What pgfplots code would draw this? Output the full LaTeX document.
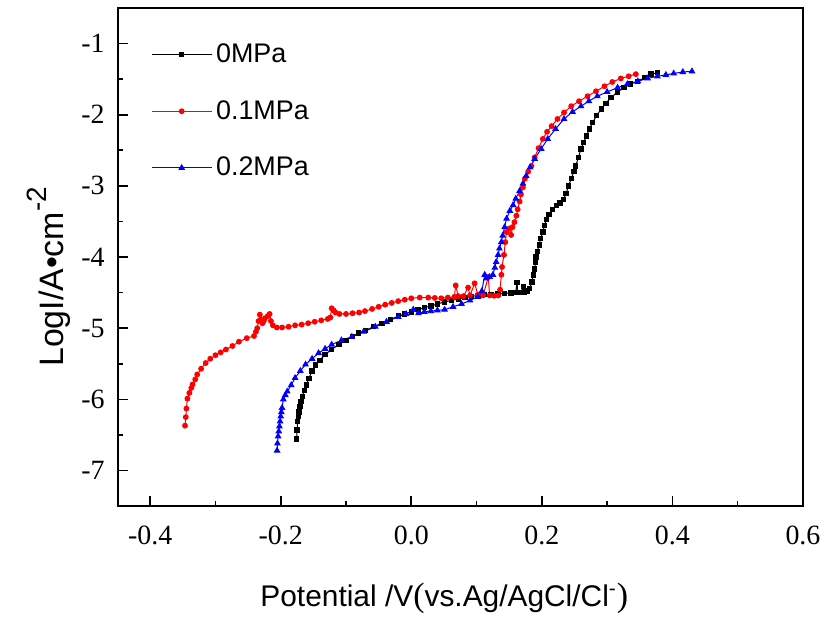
\documentclass[border=0pt]{standalone}
\usepackage{pgfplots}
\pgfplotsset{compat=1.18}
\usepackage{fontspec}
\setmainfont{Liberation Serif}
\newfontfamily\arial{Liberation Sans}
\begin{document}
\begin{tikzpicture}
\begin{axis}[
  scale only axis,
  width=344pt, height=250pt,
  xmin=-0.45, xmax=0.6, ymin=-7.5, ymax=-0.5,
  axis line style={line width=1pt},
  xtick={-0.4,-0.2,0,0.2,0.4,0.6},
  xticklabels={-0.4,-0.2,0.0,0.2,0.4,0.6},
  ytick={-7,-6,-5,-4,-3,-2,-1},
  yticklabels={-7,-6,-5,-4,-3,-2,-1},
  minor x tick num=1, minor y tick num=1,
  xtick pos=bottom, ytick pos=left,
  tick align=inside,
  major tick length=5pt, minor tick length=2.6pt,
  tick style={line width=0.8pt, black},
  ticklabel style={font=\fontsize{14}{14}\selectfont},
  xticklabel style={yshift=-6.5pt},
  yticklabel style={xshift=-3pt},
  xlabel={\arial Potential /V{\rmfamily\fontsize{17}{17}\selectfont(}vs.Ag/AgCl/Cl\textsuperscript{-}{\rmfamily\fontsize{17}{17}\selectfont)}},
  ylabel={\arial LogI/A\textbullet cm\raisebox{0.5em}{\fontsize{14}{14}\selectfont -2}},
  label style={font=\fontsize{15}{15}\selectfont},
  xlabel style={yshift=-12pt, xshift=-8pt},
  ylabel style={yshift=-1.5pt, xshift=-10pt, font=\fontsize{17}{17}\selectfont},
  legend style={at={(0.04,0.945)}, anchor=north west, draw=none, fill=none,
    font=\arial\fontsize{13.5}{13.5}\selectfont, row sep=13.5pt},
  legend cell align=left,
  legend image code/.code={\draw[mark repeat=2,mark phase=2] plot coordinates {(0pt,0pt) (15pt,0pt) (30pt,0pt)};},
]
\addplot[black, line width=0.5pt, mark=square*, mark size=1.1pt] coordinates {
(-0.1756,-6.56) (-0.175,-6.43) (-0.174,-6.31) (-0.173,-6.24) (-0.172,-6.18) (-0.1705,-6.10) (-0.169,-6.03) (-0.167,-5.96) (-0.164,-5.88) (-0.161,-5.80) (-0.157,-5.71) (-0.152,-5.60) (-0.147,-5.52) (-0.140,-5.45) (-0.132,-5.37) (-0.122,-5.30) (-0.111,-5.23) (-0.100,-5.17) (-0.090,-5.12) (-0.081,-5.07) (-0.070,-5.03) (-0.058,-4.98) (-0.045,-4.93) (-0.032,-4.88) (-0.020,-4.83) (-0.010,-4.80) (0.000,-4.77) (0.010,-4.74) (0.020,-4.71) (0.030,-4.69) (0.040,-4.66) (0.051,-4.63) (0.062,-4.61) (0.072,-4.59) (0.082,-4.57) (0.092,-4.555) (0.102,-4.54) (0.112,-4.53) (0.122,-4.525) (0.133,-4.52) (0.143,-4.51) (0.153,-4.505) (0.160,-4.50) (0.162,-4.36) (0.163,-4.50) (0.168,-4.495) (0.172,-4.41) (0.173,-4.49) (0.178,-4.48) (0.181,-4.44) (0.185,-4.35) (0.187,-4.25) (0.189,-4.17) (0.190,-4.08) (0.191,-4.00) (0.193,-3.92) (0.196,-3.83) (0.198,-3.74) (0.2015,-3.65) (0.204,-3.56) (0.207,-3.47) (0.211,-3.40) (0.216,-3.33) (0.222,-3.28) (0.228,-3.24) (0.233,-3.19) (0.237,-3.11) (0.241,-3.00) (0.245,-2.90) (0.249,-2.80) (0.252,-2.72) (0.256,-2.60) (0.260,-2.48) (0.264,-2.39) (0.268,-2.30) (0.273,-2.20) (0.278,-2.11) (0.284,-2.01) (0.291,-1.92) (0.298,-1.84) (0.306,-1.76) (0.316,-1.68) (0.326,-1.62) (0.336,-1.57) (0.347,-1.53) (0.357,-1.48) (0.367,-1.43) (0.377,-1.41)
};
\addlegendentry{0MPa}
\addplot[red, line width=0.5pt, mark=*, mark size=1.2pt] coordinates {
(-0.3466,-6.37) (-0.3455,-6.25) (-0.3445,-6.13) (-0.343,-5.99) (-0.340,-5.91) (-0.337,-5.84) (-0.335,-5.79) (-0.331,-5.72) (-0.328,-5.65) (-0.322,-5.57) (-0.315,-5.49) (-0.308,-5.43) (-0.300,-5.38) (-0.292,-5.34) (-0.284,-5.30) (-0.274,-5.25) (-0.264,-5.19) (-0.252,-5.14) (-0.241,-5.11) (-0.238,-5.05) (-0.236,-5.00) (-0.234,-4.90) (-0.232,-4.81) (-0.230,-4.88) (-0.228,-4.93) (-0.226,-4.90) (-0.224,-4.86) (-0.220,-4.83) (-0.217,-4.80) (-0.215,-4.90) (-0.212,-4.96) (-0.206,-4.99) (-0.198,-4.99) (-0.188,-4.98) (-0.178,-4.96) (-0.168,-4.95) (-0.158,-4.93) (-0.148,-4.91) (-0.138,-4.89) (-0.128,-4.87) (-0.124,-4.85) (-0.122,-4.72) (-0.119,-4.75) (-0.116,-4.78) (-0.110,-4.80) (-0.100,-4.80) (-0.090,-4.79) (-0.080,-4.78) (-0.071,-4.76) (-0.060,-4.73) (-0.050,-4.70) (-0.040,-4.67) (-0.030,-4.645) (-0.020,-4.62) (-0.010,-4.60) (0.000,-4.58) (0.013,-4.57) (0.026,-4.57) (0.036,-4.575) (0.046,-4.58) (0.056,-4.57) (0.066,-4.56) (0.068,-4.40) (0.072,-4.55) (0.080,-4.55) (0.087,-4.43) (0.090,-4.54) (0.097,-4.37) (0.102,-4.53) (0.110,-4.54) (0.118,-4.28) (0.120,-4.54) (0.127,-4.545) (0.133,-4.54) (0.136,-4.46) (0.138,-4.25) (0.139,-4.14) (0.142,-3.97) (0.144,-3.79) (0.146,-3.65) (0.150,-3.60) (0.153,-3.69) (0.155,-3.58) (0.158,-3.51) (0.161,-3.42) (0.163,-3.33) (0.166,-3.22) (0.168,-3.12) (0.171,-3.02) (0.174,-2.90) (0.179,-2.80) (0.184,-2.72) (0.189,-2.60) (0.195,-2.47) (0.2015,-2.34) (0.208,-2.24) (0.215,-2.16) (0.224,-2.06) (0.234,-1.97) (0.245,-1.88) (0.257,-1.81) (0.270,-1.74) (0.283,-1.67) (0.296,-1.60) (0.308,-1.54) (0.321,-1.49) (0.333,-1.46) (0.344,-1.43)
};
\addlegendentry{0.1MPa}
\addplot[blue, line width=0.5pt, mark=triangle*, mark size=1.5pt] coordinates {
(-0.2056,-6.72) (-0.205,-6.62) (-0.204,-6.52) (-0.203,-6.45) (-0.202,-6.38) (-0.201,-6.31) (-0.200,-6.24) (-0.199,-6.18) (-0.198,-6.12) (-0.196,-6.00) (-0.193,-5.94) (-0.190,-5.89) (-0.184,-5.80) (-0.178,-5.70) (-0.170,-5.60) (-0.162,-5.51) (-0.152,-5.43) (-0.142,-5.35) (-0.132,-5.29) (-0.122,-5.23) (-0.107,-5.17) (-0.091,-5.12) (-0.073,-5.05) (-0.055,-4.98) (-0.038,-4.91) (-0.020,-4.84) (-0.008,-4.80) (0.003,-4.74) (0.011,-4.79) (0.020,-4.77) (0.030,-4.76) (0.040,-4.75) (0.051,-4.74) (0.064,-4.70) (0.077,-4.66) (0.090,-4.61) (0.102,-4.56) (0.108,-4.48) (0.1125,-4.25) (0.115,-4.30) (0.120,-4.28) (0.125,-4.25) (0.128,-4.15) (0.130,-4.07) (0.133,-3.97) (0.135,-3.88) (0.138,-3.79) (0.140,-3.70) (0.143,-3.58) (0.146,-3.46) (0.151,-3.35) (0.156,-3.27) (0.160,-3.18) (0.166,-3.07) (0.171,-2.97) (0.176,-2.86) (0.182,-2.74) (0.189,-2.62) (0.199,-2.48) (0.209,-2.34) (0.221,-2.20) (0.234,-2.06) (0.247,-1.96) (0.260,-1.88) (0.272,-1.81) (0.285,-1.74) (0.300,-1.68) (0.316,-1.62) (0.331,-1.57) (0.347,-1.53) (0.362,-1.49) (0.377,-1.46) (0.390,-1.44) (0.402,-1.42) (0.416,-1.40) (0.430,-1.39)
};
\addlegendentry{0.2MPa}
\end{axis}
\path (current axis.south west) ++(-59pt,-54pt);
\path (current axis.north east) ++(10.5pt,4pt);
\end{tikzpicture}
\end{document}
